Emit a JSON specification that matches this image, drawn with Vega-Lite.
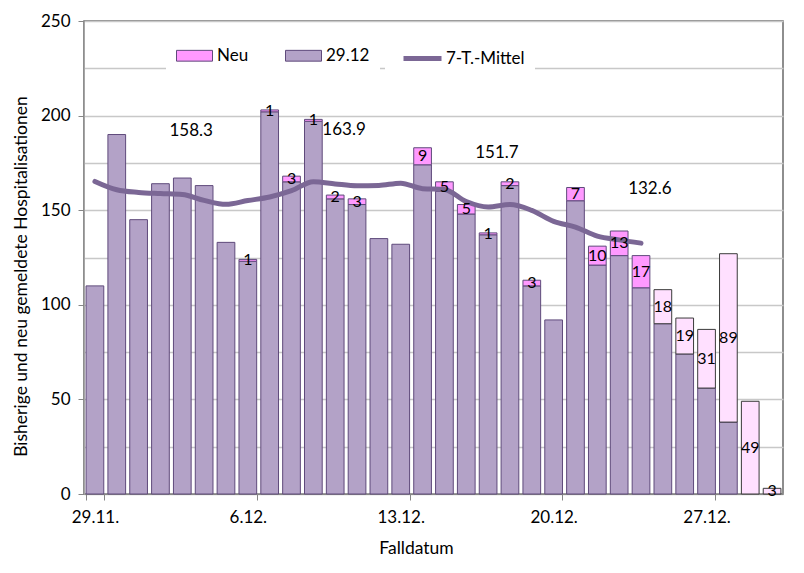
{
  "$schema": "https://vega.github.io/schema/vega-lite/v6.json",
  "width": 699,
  "height": 473,
  "autosize": {"type": "none"},
  "padding": {"left": 84, "top": 21, "right": 21, "bottom": 79},
  "background": "white",
  "config": {
    "font": "Lato",
    "view": {"stroke": "#6a6a6a", "strokeWidth": 1.5},
    "axis": {"labelFont": "Lato", "titleFont": "Lato", "labelColor": "#000000", "titleColor": "#000000", "titleFontWeight": "normal"},
    "legend": {"labelFont": "Lato", "labelFontSize": 17, "labelColor": "#000000", "fillColor": "white", "padding": 10, "direction": "horizontal", "orient": "none"}
  },
  "datasets": {
    "bars": [
      {"d": "29.11.", "s": "29.12", "v": 110, "o": 1, "h": false},
      {"d": "30.11.", "s": "29.12", "v": 190, "o": 1, "h": false},
      {"d": "1.12.", "s": "29.12", "v": 145, "o": 1, "h": false},
      {"d": "2.12.", "s": "29.12", "v": 164, "o": 1, "h": false},
      {"d": "3.12.", "s": "29.12", "v": 167, "o": 1, "h": false},
      {"d": "4.12.", "s": "29.12", "v": 163, "o": 1, "h": false},
      {"d": "5.12.", "s": "29.12", "v": 133, "o": 1, "h": false},
      {"d": "6.12.", "s": "29.12", "v": 123, "o": 1, "h": false},
      {"d": "6.12.", "s": "Neu", "v": 1, "o": 2, "h": false},
      {"d": "7.12.", "s": "29.12", "v": 202, "o": 1, "h": false},
      {"d": "7.12.", "s": "Neu", "v": 1, "o": 2, "h": false},
      {"d": "8.12.", "s": "29.12", "v": 165, "o": 1, "h": false},
      {"d": "8.12.", "s": "Neu", "v": 3, "o": 2, "h": false},
      {"d": "9.12.", "s": "29.12", "v": 197, "o": 1, "h": false},
      {"d": "9.12.", "s": "Neu", "v": 1, "o": 2, "h": false},
      {"d": "10.12.", "s": "29.12", "v": 156, "o": 1, "h": false},
      {"d": "10.12.", "s": "Neu", "v": 2, "o": 2, "h": false},
      {"d": "11.12.", "s": "29.12", "v": 153, "o": 1, "h": false},
      {"d": "11.12.", "s": "Neu", "v": 3, "o": 2, "h": false},
      {"d": "12.12.", "s": "29.12", "v": 135, "o": 1, "h": false},
      {"d": "13.12.", "s": "29.12", "v": 132, "o": 1, "h": false},
      {"d": "14.12.", "s": "29.12", "v": 174, "o": 1, "h": false},
      {"d": "14.12.", "s": "Neu", "v": 9, "o": 2, "h": false},
      {"d": "15.12.", "s": "29.12", "v": 160, "o": 1, "h": false},
      {"d": "15.12.", "s": "Neu", "v": 5, "o": 2, "h": false},
      {"d": "16.12.", "s": "29.12", "v": 148, "o": 1, "h": false},
      {"d": "16.12.", "s": "Neu", "v": 5, "o": 2, "h": false},
      {"d": "17.12.", "s": "29.12", "v": 137, "o": 1, "h": false},
      {"d": "17.12.", "s": "Neu", "v": 1, "o": 2, "h": false},
      {"d": "18.12.", "s": "29.12", "v": 163, "o": 1, "h": false},
      {"d": "18.12.", "s": "Neu", "v": 2, "o": 2, "h": false},
      {"d": "19.12.", "s": "29.12", "v": 110, "o": 1, "h": false},
      {"d": "19.12.", "s": "Neu", "v": 3, "o": 2, "h": false},
      {"d": "20.12.", "s": "29.12", "v": 92, "o": 1, "h": false},
      {"d": "21.12.", "s": "29.12", "v": 155, "o": 1, "h": false},
      {"d": "21.12.", "s": "Neu", "v": 7, "o": 2, "h": false},
      {"d": "22.12.", "s": "29.12", "v": 121, "o": 1, "h": false},
      {"d": "22.12.", "s": "Neu", "v": 10, "o": 2, "h": false},
      {"d": "23.12.", "s": "29.12", "v": 126, "o": 1, "h": false},
      {"d": "23.12.", "s": "Neu", "v": 13, "o": 2, "h": false},
      {"d": "24.12.", "s": "29.12", "v": 109, "o": 1, "h": false},
      {"d": "24.12.", "s": "Neu", "v": 17, "o": 2, "h": false},
      {"d": "25.12.", "s": "29.12", "v": 90, "o": 1, "h": false},
      {"d": "25.12.", "s": "Neu", "v": 18, "o": 2, "h": true},
      {"d": "26.12.", "s": "29.12", "v": 74, "o": 1, "h": false},
      {"d": "26.12.", "s": "Neu", "v": 19, "o": 2, "h": true},
      {"d": "27.12.", "s": "29.12", "v": 56, "o": 1, "h": false},
      {"d": "27.12.", "s": "Neu", "v": 31, "o": 2, "h": true},
      {"d": "28.12.", "s": "29.12", "v": 38, "o": 1, "h": false},
      {"d": "28.12.", "s": "Neu", "v": 89, "o": 2, "h": true},
      {"d": "29.12.", "s": "Neu", "v": 49, "o": 2, "h": true},
      {"d": "30.12.", "s": "Neu", "v": 3, "o": 2, "h": true}
    ],
    "avg": [
      {"d": "29.11.", "s": "7-T.-Mittel", "v": 165.2},
      {"d": "30.11.", "s": "7-T.-Mittel", "v": 160.8},
      {"d": "1.12.", "s": "7-T.-Mittel", "v": 159.4},
      {"d": "2.12.", "s": "7-T.-Mittel", "v": 158.8},
      {"d": "3.12.", "s": "7-T.-Mittel", "v": 158.3},
      {"d": "4.12.", "s": "7-T.-Mittel", "v": 155.2},
      {"d": "5.12.", "s": "7-T.-Mittel", "v": 153.1},
      {"d": "6.12.", "s": "7-T.-Mittel", "v": 155.1},
      {"d": "7.12.", "s": "7-T.-Mittel", "v": 157.0},
      {"d": "8.12.", "s": "7-T.-Mittel", "v": 160.3},
      {"d": "9.12.", "s": "7-T.-Mittel", "v": 165.1},
      {"d": "10.12.", "s": "7-T.-Mittel", "v": 163.9},
      {"d": "11.12.", "s": "7-T.-Mittel", "v": 162.9},
      {"d": "12.12.", "s": "7-T.-Mittel", "v": 163.1},
      {"d": "13.12.", "s": "7-T.-Mittel", "v": 164.3},
      {"d": "14.12.", "s": "7-T.-Mittel", "v": 161.4},
      {"d": "15.12.", "s": "7-T.-Mittel", "v": 161.0},
      {"d": "16.12.", "s": "7-T.-Mittel", "v": 154.6},
      {"d": "17.12.", "s": "7-T.-Mittel", "v": 151.7},
      {"d": "18.12.", "s": "7-T.-Mittel", "v": 153.0},
      {"d": "19.12.", "s": "7-T.-Mittel", "v": 149.9},
      {"d": "20.12.", "s": "7-T.-Mittel", "v": 144.1},
      {"d": "21.12.", "s": "7-T.-Mittel", "v": 141.1},
      {"d": "22.12.", "s": "7-T.-Mittel", "v": 136.3},
      {"d": "23.12.", "s": "7-T.-Mittel", "v": 134.3},
      {"d": "24.12.", "s": "7-T.-Mittel", "v": 132.6}
    ],
    "wk": [
      {"d": "3.12.", "v": 158.3, "y": 192},
      {"d": "10.12.", "v": 163.9, "y": 192.5},
      {"d": "17.12.", "v": 151.7, "y": 180},
      {"d": "24.12.", "v": 132.6, "y": 161}
    ]
  },
  "encoding": {
    "x": {
      "field": "d",
      "type": "ordinal",
      "scale": {
        "domain": ["29.11.", "30.11.", "1.12.", "2.12.", "3.12.", "4.12.", "5.12.", "6.12.", "7.12.", "8.12.", "9.12.", "10.12.", "11.12.", "12.12.", "13.12.", "14.12.", "15.12.", "16.12.", "17.12.", "18.12.", "19.12.", "20.12.", "21.12.", "22.12.", "23.12.", "24.12.", "25.12.", "26.12.", "27.12.", "28.12.", "29.12.", "30.12."],
        "paddingInner": 0.19,
        "paddingOuter": 0.095
      },
      "axis": {
        "title": "Falldatum",
        "values": ["29.11.", "6.12.", "13.12.", "20.12.", "27.12."],
        "tickBand": "extent",
        "labelAngle": 0,
        "labelFontSize": 17,
        "labelPadding": 9,
        "tickSize": 6,
        "tickColor": "#868686",
        "domainColor": "#868686",
        "grid": false,
        "titleFontSize": 17.5,
        "titleX": 332,
        "titleY": 45,
        "titleBaseline": "top",
        "titleAlign": "center"
      }
    }
  },
  "layer": [
    {
      "data": {"name": "bars"},
      "mark": {"type": "bar", "strokeWidth": 1},
      "encoding": {
        "y": {
          "field": "v",
          "type": "quantitative",
          "stack": "zero",
          "scale": {"domain": [0, 250], "nice": false},
          "axis": {
            "title": "Bisherige und neu gemeldete Hospitalisationen",
            "values": [0, 25, 50, 75, 100, 125, 150, 175, 200, 225, 250],
            "labelExpr": "datum.value % 50 === 0 ? datum.label : ''",
            "tickOpacity": {"condition": {"test": "datum.value % 50 === 0", "value": 1}, "value": 0},
            "tickSize": 6,
            "tickColor": "#868686",
            "labelPadding": 8,
            "labelFontSize": 17,
            "domainColor": "#a6a6a6",
            "gridColor": "#c8c8c8",
            "gridWidth": 1.5,
            "titleFontSize": 17.5,
            "titleAngle": -90,
            "titleX": -54,
            "titleY": 255,
            "titleBaseline": "bottom",
            "titleAlign": "center"
          }
        },
        "fill": {
          "field": "s",
          "type": "nominal",
          "condition": {"test": "datum.h", "value": "#ffe0ff"},
          "scale": {"domain": ["Neu", "29.12"], "range": ["#ff99ff", "#b3a2c7"]},
          "legend": {
            "legendX": 82,
            "legendY": 6,
            "title": null,
            "symbolType": "M-1,-0.3H1V0.3H-1Z",
            "symbolSize": 1296,
            "symbolStrokeColor": "#5f4a7b",
            "symbolStrokeWidth": 1,
            "symbolOpacity": 1,
            "columnPadding": 34,
            "labelOffset": 4
          }
        },
        "stroke": {"condition": {"test": "!datum.h", "value": "#5f4a7b"}, "value": "#3a3a3a"},
        "order": {"field": "o", "type": "quantitative"}
      }
    },
    {
      "data": {"name": "avg"},
      "mark": {"type": "line", "strokeWidth": 5, "interpolate": "monotone", "strokeCap": "round"},
      "encoding": {
        "y": {"field": "v", "type": "quantitative"},
        "stroke": {
          "field": "s",
          "type": "nominal",
          "scale": {"domain": ["7-T.-Mittel"], "range": ["#7b6795"]},
          "legend": {
            "legendX": 301,
            "legendY": 6,
            "title": "\u2003",
            "titleOrient": "left",
            "titleFontSize": 19,
            "titlePadding": 6,
            "symbolType": "stroke",
            "symbolSize": 1444,
            "symbolStrokeWidth": 5,
            "symbolOpacity": 1,
            "labelOffset": 2
          }
        }
      }
    },
    {
      "data": {"name": "bars"},
      "mark": {"type": "text", "fontSize": 16, "color": "#000000", "baseline": "middle"},
      "encoding": {
        "y": {"field": "v", "type": "quantitative", "stack": "zero", "bandPosition": 0.5},
        "detail": {"field": "s"},
        "order": {"field": "o", "type": "quantitative"},
        "text": {"condition": {"test": "datum.s === 'Neu'", "field": "v", "type": "quantitative"}, "value": ""}
      }
    },
    {
      "data": {"name": "wk"},
      "mark": {"type": "text", "fontSize": 17, "color": "#000000", "baseline": "middle"},
      "encoding": {
        "x": {"field": "d", "type": "ordinal", "bandPosition": 1},
        "y": {"field": "y", "type": "quantitative"},
        "text": {"field": "v", "type": "quantitative", "format": ".1f"}
      }
    }
  ]
}
